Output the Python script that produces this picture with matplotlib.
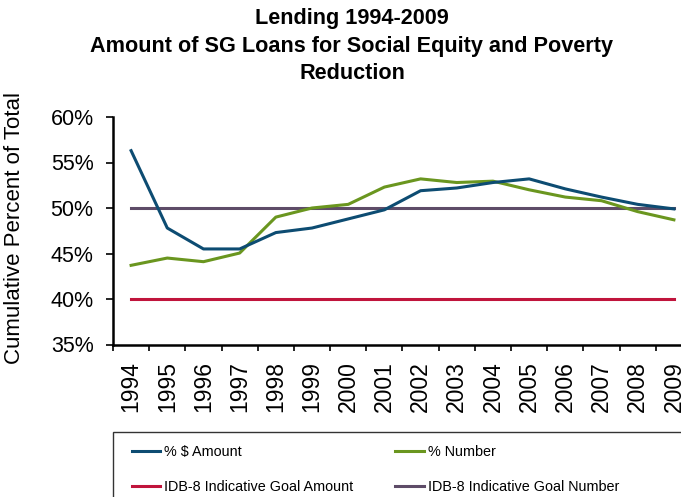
import matplotlib
matplotlib.use("Agg")
import matplotlib.pyplot as plt
from matplotlib.patches import Rectangle
import numpy as np

years = ["1994", "1995", "1996", "1997", "1998", "1999", "2000", "2001",
         "2002", "2003", "2004", "2005", "2006", "2007", "2008", "2009"]
pct_amount = [56.3, 47.8, 45.5, 45.5, 47.3, 47.8, 48.8, 49.8,
              51.9, 52.2, 52.8, 53.2, 52.1, 51.2, 50.4, 49.9]
pct_number = [43.7, 44.5, 44.1, 45.05, 49.0, 50.0, 50.4, 52.3,
              53.2, 52.8, 52.95, 52.0, 51.2, 50.8, 49.6, 48.7]
goal_amount = [40.0] * 16
goal_number = [50.0] * 16
yticks = [35, 40, 45, 50, 55, 60]

plt.rcParams['font.family'] = ['Liberation Sans', 'DejaVu Sans']

W, H = 681, 497
fig = plt.figure(figsize=(W / 100, H / 100), dpi=100)
ax = fig.add_axes([113 / W, 1 - 344.5 / H, (692 - 113) / W, (344.5 - 117) / H])

x = np.arange(len(years))
c_amt = '#0D4C72'
c_num = '#6A961F'
c_gam = '#C0143C'
c_gnum = '#5E4C68'
lw = 2.2
l1, = ax.plot(x, pct_amount, color=c_amt, lw=lw, label='% $ Amount', zorder=4)
l2, = ax.plot(x, pct_number, color=c_num, lw=lw, label='% Number', zorder=3)
l3, = ax.plot(x, goal_amount, color=c_gam, lw=lw, label='IDB-8 Indicative Goal Amount', zorder=2)
l4, = ax.plot(x, goal_number, color=c_gnum, lw=lw, label='IDB-8 Indicative Goal Number', zorder=2)

ax.set_xlim(-0.5, len(years) - 0.5)
ax.set_ylim(35, 60)
ax.set_yticks(yticks)
ax.set_yticklabels([f"{v}%" for v in yticks], fontsize=15.5)
ax.set_xticks(x)
ax.set_xticklabels(years, rotation=90, fontsize=16.5)
ax.set_xticks(np.arange(-0.5, len(years), 1.0), minor=True)
ax.tick_params(axis='x', which='major', length=0, pad=12)
ax.tick_params(axis='x', which='minor', length=4, width=1.2, direction='out')
ax.tick_params(axis='y', length=5, width=1.2, direction='out', pad=9)
for s in ['top', 'right']:
    ax.spines[s].set_visible(False)
for s in ['left', 'bottom']:
    ax.spines[s].set_linewidth(1.8)
ax.set_ylabel('Cumulative Percent of Total', fontsize=16)
ax.yaxis.set_label_coords(25 / W, 1 - 228 / H, transform=fig.transFigure)

fig.text(352 / W, 1 - 8 / H,
         'Lending 1994-2009\nAmount of SG Loans for Social Equity and Poverty\nReduction',
         ha='center', va='top', fontsize=15.6, fontweight='bold', linespacing=1.42)

leg = fig.legend(handles=[l1, l3, l2, l4], ncol=2, frameon=False,
                 loc='center left', bbox_to_anchor=(132 / W, 1 - 469.5 / H),
                 borderpad=0, borderaxespad=0, fontsize=10.4, handlelength=1.95,
                 handletextpad=0.28, labelspacing=1.45, columnspacing=2.9)
fig.patches.append(Rectangle((113 / W, -0.05), (700 - 113) / W, 0.05 + 1 - 432 / H,
                             transform=fig.transFigure, fill=False,
                             edgecolor='#333333', lw=1.0))

fig.savefig('out.png', dpi=100)
